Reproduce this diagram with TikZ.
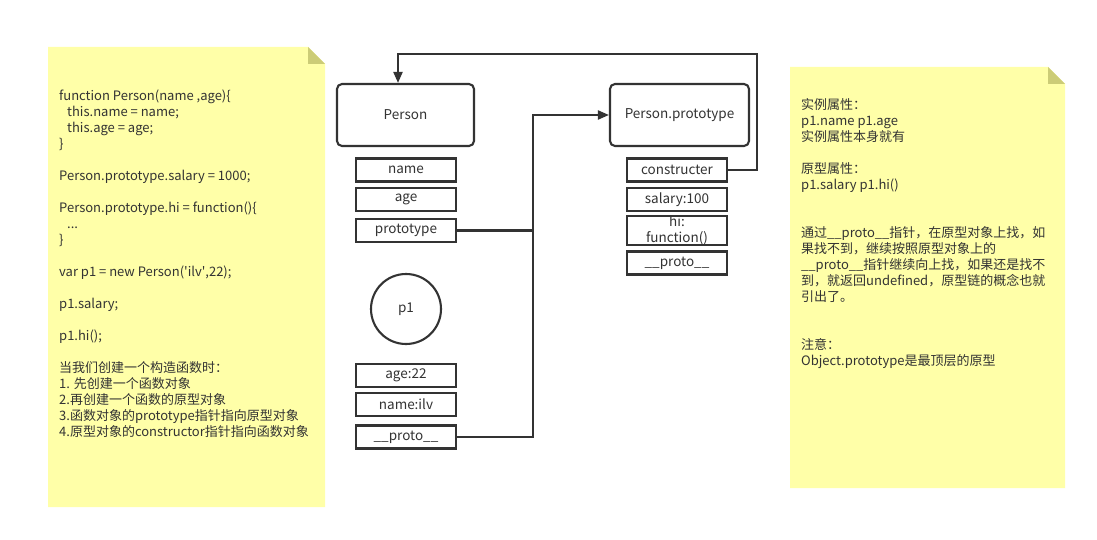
\documentclass[tikz,border=0pt]{standalone}
\usepackage{fontspec}
\setmainfont{Noto Sans CJK SC}
\usetikzlibrary{arrows.meta}
\definecolor{note}{HTML}{FFFFA8}
\definecolor{fold}{HTML}{CCCC77}
\definecolor{ink}{HTML}{333333}
\tikzset{
  bigbox/.style={draw=ink, line width=2.1pt, rounded corners=5pt, minimum height=62pt, inner sep=0pt, text=ink, font=\fontsize{13.5}{16}\selectfont},
  field/.style={draw=ink, line width=2.1pt, minimum width=100pt, minimum height=23pt, inner sep=0pt, text=ink, font=\fontsize{13.5}{16}\selectfont},
  conn/.style={draw=ink, line width=2.1pt},
  tip/.style={-{Triangle[length=11pt,width=9pt]}},
  notetext/.style={anchor=north west, inner sep=0pt, align=left, text=ink, font=\fontsize{13}{16}\selectfont}
}
\begin{document}
\begin{tikzpicture}[x=1pt,y=-1pt]
\useasboundingbox (0,0) rectangle (1097,540);
\fill[white] (0,0) rectangle (1097,540);
% notes
\fill[note] (48,47) -- (308,47) -- (325,64) -- (325,507) -- (48,507) -- cycle;
\fill[fold] (308,47) -- (325,64) -- (308,64) -- cycle;
\fill[note] (790,67) -- (1048,67) -- (1065,84) -- (1065,488) -- (790,488) -- cycle;
\fill[fold] (1048,67) -- (1065,84) -- (1048,84) -- cycle;

\node[notetext] (lefttext) at (59,90) {%
function Person(name ,age)\{\\
\hspace*{8pt}this.name = name;\\
\hspace*{8pt}this.age = age;\\
\}\\
~\\
Person.prototype.salary = 1000;\\
~\\
Person.prototype.hi = function()\{\\
\hspace*{8pt}...\\
\}\\
~\\
var p1 = new Person(\textquotesingle ilv\textquotesingle,22);\\
~\\
p1.salary;\\
~\\
p1.hi();\\
~\\
当我们创建一个构造函数时：\\
1. 先创建一个函数对象\\
2.再创建一个函数的原型对象\\
3.函数对象的prototype指针指向原型对象\\
4.原型对象的constructor指针指向函数对象};

\node[notetext] (righttext) at (801,98) {%
实例属性：\\
p1.name p1.age\\
实例属性本身就有\\
~\\
原型属性：\\
p1.salary p1.hi()\\
~\\
~\\
通过\_\_proto\_\_指针，在原型对象上找，如\\
果找不到，继续按照原型对象上的\\
\_\_proto\_\_指针继续向上找，如果还是找不\\
到，就返回undefined，原型链的概念也就\\
引出了。\\
~\\
~\\
注意：\\
Object.prototype是最顶层的原型};

% boxes
\node[bigbox, minimum width=137pt] (person) at (405.5,115) {Person};
\node[bigbox, minimum width=139pt] (pp) at (679.5,115) {Person.prototype};

\node[field] (fname) at (406,170) {name};
\node[field] (fage) at (406,199.5) {age};
\node[field] (fproto) at (406,230.5) {prototype};

\node[field] (ctor) at (677,170) {constructer};
\node[field] (salary) at (677,199.5) {salary:100};
\node[field, align=center] (hi) at (677,230.5) {hi:\\function()};
\node[field] (ppproto) at (677,263) {\_\_proto\_\_};

\node[draw=ink, line width=2.1pt, circle, minimum size=70pt, inner sep=0pt, text=ink, font=\fontsize{13.5}{16}\selectfont] (p1) at (406,309) {p1};
\node[field] (page) at (406,375.5) {age:22};
\node[field] (pname) at (406,404.5) {name:ilv};
\node[field] (pproto) at (406,437) {\_\_proto\_\_};

% connectors
\coordinate (jx) at (533,115);
\draw[conn, tip] (fproto.east) -| (jx) -- (pp.west);
\draw[conn] (pproto.east) -| (jx);
\coordinate (c1) at (757,54);
\coordinate (c2) at (398,54);
\draw[conn, tip] (ctor.east) -| (c1) -- (c2) -- (c2 |- person.north);
\end{tikzpicture}
\end{document}
